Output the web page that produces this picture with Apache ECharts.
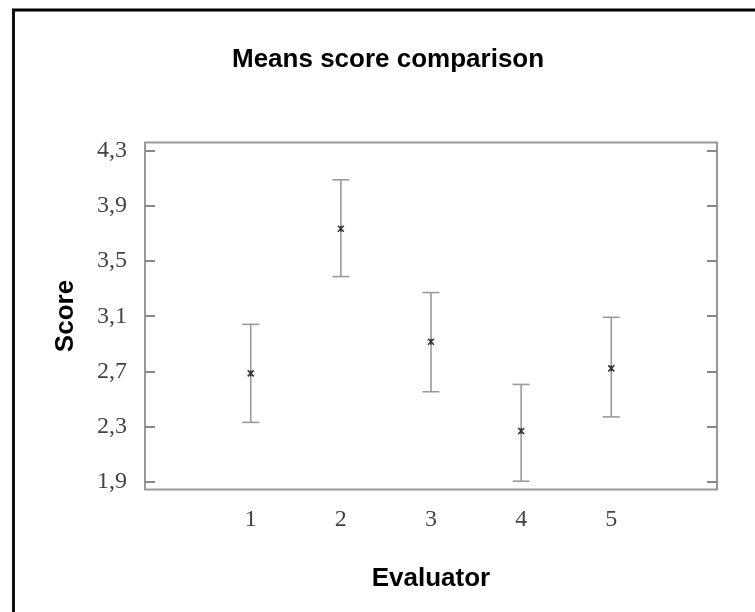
<!DOCTYPE html>
<html>
<head>
<meta charset="utf-8">
<script src="https://cdn.jsdelivr.net/npm/echarts@6/dist/echarts.min.js"></script>
<style>html,body{margin:0;padding:0;background:#fff}#c{width:755px;height:612px}</style>
</head>
<body>
<div id="c"></div>
<script>
// Data
const evaluators = [1, 2, 3, 4, 5];
const meanScores = [2.686, 3.733, 2.915, 2.268, 2.722];
const lowScores  = [2.331, 3.387, 2.553, 1.905, 2.371];
const highScores = [3.041, 4.088, 3.271, 2.606, 3.092];
const yTickValues = [1.9, 2.3, 2.7, 3.1, 3.5, 3.9, 4.3];
const xTickValues = [1, 2, 3, 4, 5];

const barData = evaluators.map((e, i) => [e, lowScores[i], highScores[i], meanScores[i]]);

const chart = echarts.init(document.getElementById('c'), null, {renderer: 'canvas'});
const fmtY = v => v.toFixed(1).replace('.', ',');

chart.setOption({
  animation: false,
  backgroundColor: '#fff',
  title: {
    text: 'Means score comparison',
    left: 227, top: 42,
    textStyle: {fontFamily: 'Liberation Sans', fontWeight: 'bold', fontSize: 26, color: '#000'}
  },
  grid: {left: 145, top: 142.5, right: 38, bottom: 122.5, show: true, borderColor: '#999', borderWidth: 2, backgroundColor: '#fff'},
  xAxis: {
    type: 'value', min: -0.173, max: 6.173,
    name: 'Evaluator', nameLocation: 'middle', nameGap: 76,
    nameTextStyle: {fontFamily: 'Liberation Sans', fontWeight: 'bold', fontSize: 26, color: '#000'},
    axisLine: {show: false, onZero: false}, axisTick: {show: false}, splitLine: {show: false},
    axisLabel: {customValues: xTickValues, fontFamily: 'Liberation Serif', fontSize: 24, color: '#444', margin: 18}
  },
  yAxis: [{
    type: 'value', min: 1.845, max: 4.358, position: 'left',
    name: 'Score', nameLocation: 'middle', nameGap: 66, nameRotate: 90,
    nameTextStyle: {fontFamily: 'Liberation Sans', fontWeight: 'bold', fontSize: 26, color: '#000'},
    axisLine: {show: false, onZero: false}, splitLine: {show: false},
    axisTick: {show: true, inside: true, length: 10, customValues: yTickValues, lineStyle: {color: '#888', width: 2}},
    axisLabel: {customValues: yTickValues, formatter: fmtY, fontFamily: 'Liberation Serif', fontSize: 24, color: '#444', margin: 18}
  }, {
    type: 'value', min: 1.845, max: 4.358, position: 'right',
    axisLine: {show: false, onZero: false}, splitLine: {show: false},
    axisTick: {show: true, inside: true, length: 10, customValues: yTickValues, lineStyle: {color: '#888', width: 2}},
    axisLabel: {show: false}
  }],
  graphic: [
    {type: 'line', shape: {x1: 12, y1: 10, x2: 755, y2: 10}, style: {stroke: '#000', lineWidth: 3}},
    {type: 'line', shape: {x1: 13.5, y1: 10, x2: 13.5, y2: 612}, style: {stroke: '#111', lineWidth: 3}}
  ],
  series: [{
    type: 'custom',
    data: barData,
    encode: {x: 0, y: [1, 2, 3]},
    renderItem: function (params, api) {
      const x = api.value(0);
      const lo = api.coord([x, api.value(1)]);
      const hi = api.coord([x, api.value(2)]);
      const mid = api.coord([x, api.value(3)]);
      const hw = 8.5, s = 3;
      const barStyle = {stroke: '#9a9a9a', lineWidth: 1.6};
      const mStyle = {stroke: '#333', lineWidth: 1.5};
      return {type: 'group', children: [
        {type: 'line', shape: {x1: lo[0], y1: lo[1], x2: hi[0], y2: hi[1]}, style: barStyle},
        {type: 'line', shape: {x1: lo[0] - hw, y1: lo[1], x2: lo[0] + hw, y2: lo[1]}, style: barStyle},
        {type: 'line', shape: {x1: hi[0] - hw, y1: hi[1], x2: hi[0] + hw, y2: hi[1]}, style: barStyle},
        {type: 'line', shape: {x1: mid[0] - s, y1: mid[1] - s, x2: mid[0] + s, y2: mid[1] + s}, style: mStyle},
        {type: 'line', shape: {x1: mid[0] - s, y1: mid[1] + s, x2: mid[0] + s, y2: mid[1] - s}, style: mStyle},
        {type: 'line', shape: {x1: mid[0], y1: mid[1] - s, x2: mid[0], y2: mid[1] + s}, style: mStyle}
      ]};
    }
  }]
});
</script>
</body>
</html>
